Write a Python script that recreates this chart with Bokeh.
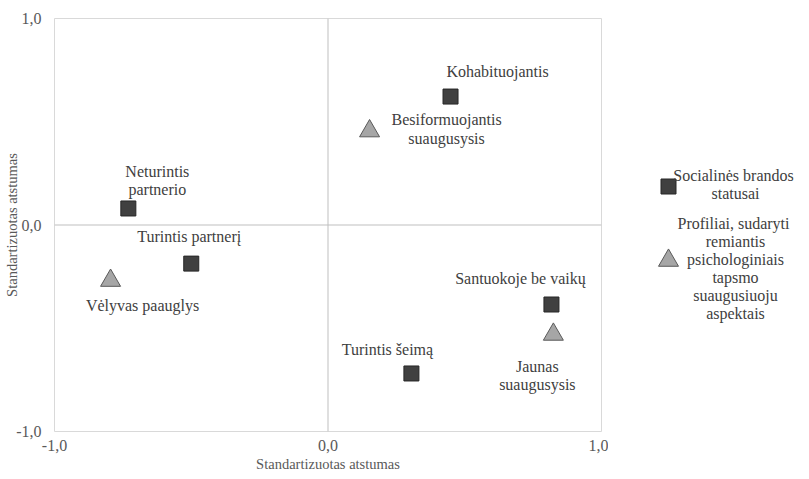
from bokeh.plotting import figure
from bokeh.models import Range1d, Span, FixedTicker, ColumnDataSource
from bokeh.layouts import row
from bokeh.embed import file_html
from bokeh.resources import INLINE
from bokeh.core.properties import value

# --- data ---
status_names = ["Kohabituojantis", "Neturintis\npartnerio", "Turintis partnerį",
                "Santuokoje be vaikų", "Turintis šeimą"]
status_x = [0.448, -0.730, -0.500, 0.817, 0.305]
status_y = [0.622, 0.080, -0.187, -0.385, -0.719]

profile_names = ["Besiformuojantis\nsuaugusysis", "Vėlyvas paauglys", "Jaunas\nsuaugusysis"]
profile_x = [0.152, -0.795, 0.824]
profile_y = [0.455, -0.269, -0.530]

legend_labels = ["Socialinės  brandos\nstatusai",
                 "Profiliai,  sudaryti\nremiantis\npsichologiniais\ntapsmo\nsuaugusiuoju\naspektais"]
tick_values = [-1, 0, 1]
tick_labels = {-1: "-1,0", 0: "0,0", 1: "1,0"}
axis_title = "Standartizuotas atstumas"

# label offsets (screen px, right / down)
status_dx = [47, 29, -2, -31, -24]
status_dy = [-25, -28, -27, -26, -24]
profile_dx = [77, 32, -16]
profile_dy = [-2, 25, 41]

FONT = "'Liberation Serif', 'Times New Roman', serif"

H = 477
p = figure(width=608, height=H, output_backend="svg", toolbar_location=None,
           x_range=Range1d(-1, 1), y_range=Range1d(-1, 1),
           min_border_left=54, min_border_right=7, min_border_top=18, min_border_bottom=46)
p.background_fill_color = "white"
p.border_fill_color = "white"
p.outline_line_color = "#d9d9d9"
p.outline_line_width = 1
p.xgrid.visible = False
p.ygrid.visible = False

for ax in (p.xaxis[0], p.yaxis[0]):
    ax.ticker = FixedTicker(ticks=tick_values)
    ax.major_label_overrides = tick_labels
    ax.axis_line_color = None
    ax.major_tick_line_color = None
    ax.minor_tick_line_color = None
    ax.major_tick_out = 0
    ax.major_tick_in = 0
    ax.minor_tick_out = 0
    ax.minor_tick_in = 0
    ax.major_label_text_font = FONT
    ax.major_label_text_font_size = "16px"
    ax.major_label_text_color = "#595959"
    ax.axis_label = axis_title
    ax.axis_label_text_font = FONT
    ax.axis_label_text_font_size = "14.5px"
    ax.axis_label_text_font_style = "normal"
    ax.axis_label_text_color = "#595959"
p.xaxis[0].major_label_standoff = 8
p.xaxis[0].axis_label_standoff = 2
p.yaxis[0].major_label_standoff = 13
p.yaxis[0].axis_label_standoff = -7

p.add_layout(Span(location=0, dimension="width", line_color="#bfbfbf", line_width=1))
p.add_layout(Span(location=0, dimension="height", line_color="#bfbfbf", line_width=1))

s_src = ColumnDataSource(dict(x=status_x, y=status_y, t=status_names, dx=status_dx, dy=status_dy))
t_src = ColumnDataSource(dict(x=profile_x, y=profile_y, t=profile_names, dx=profile_dx, dy=profile_dy))

p.scatter("x", "y", source=s_src, marker="square", size=15,
          fill_color="#404040", line_color="#262626", line_width=1)
p.scatter("x", "y", source=t_src, marker="triangle", size=20,
          fill_color="#a6a6a6", line_color="#595959", line_width=1)

for src in (s_src, t_src):
    p.text("x", "y", text="t", source=src, x_offset="dx", y_offset="dy",
           text_font=value(FONT), text_font_size="16px", text_color="#404040",
           text_align="center", text_baseline="middle", text_line_height=1.07)

# --- legend panel (frame aligned with the main frame: screen rows 18..431) ---
LW = 200
lg = figure(width=LW, height=H, output_backend="svg", toolbar_location=None,
            x_range=Range1d(0, LW), y_range=Range1d(H - 431, H - 18),
            min_border_left=0, min_border_right=0, min_border_top=18, min_border_bottom=46)
lg.outline_line_color = None
lg.axis.visible = False
lg.grid.visible = False

lg.scatter([60], [H - 186], marker="square", size=15, fill_color="#404040", line_color="#262626")
lg.scatter([60], [H - 260], marker="triangle", size=20, fill_color="#a6a6a6", line_color="#595959")
lg.text([127, 127], [H - 184, H - 268], text=legend_labels,
        text_font=value(FONT), text_font_size="16px", text_color="#404040",
        text_align="center", text_baseline="middle", text_line_height=1.07)

layout = row(p, lg)
open("out.html", "w").write(file_html(layout, INLINE))
